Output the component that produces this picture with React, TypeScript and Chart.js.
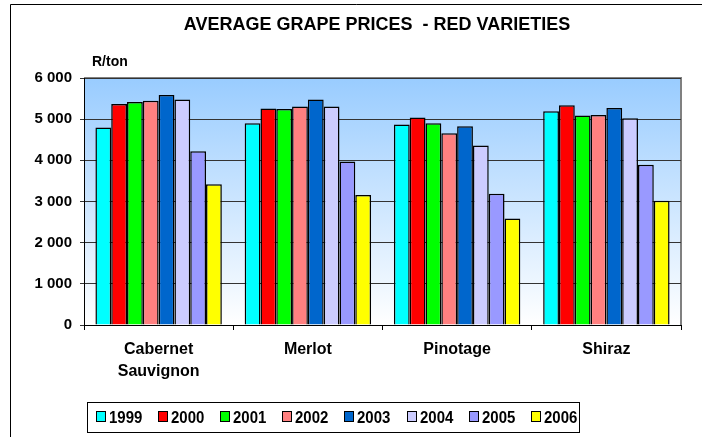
import React, { useEffect, useRef } from "react";
import { Chart, registerables } from "chart.js";

Chart.register(...registerables);

const categories: (string | string[])[] = [["Cabernet", "Sauvignon"], "Merlot", "Pinotage", "Shiraz"];
const years = ["1999", "2000", "2001", "2002", "2003", "2004", "2005", "2006"];
const colors = ["#00FFFF", "#FF0000", "#00FF00", "#FF8080", "#0066CC", "#CCCCFF", "#9999FF", "#FFFF00"];

const v1999 = [4800, 4900, 4870, 5190];
const v2000 = [5370, 5260, 5040, 5340];
const v2001 = [5420, 5250, 4900, 5090];
const v2002 = [5450, 5310, 4660, 5100];
const v2003 = [5590, 5480, 4830, 5270];
const v2004 = [5480, 5310, 4360, 5020];
const v2005 = [4220, 3970, 3190, 3890];
const v2006 = [3420, 3160, 2590, 3020];
const seriesValues = [v1999, v2000, v2001, v2002, v2003, v2004, v2005, v2006];

const yMin = 0;
const yMax = 6000;
const yStep = 1000;

const titleText = "AVERAGE GRAPE PRICES  - RED VARIETIES";
const unitText = "R/ton";

const FONT = "'Liberation Sans', Arial, sans-serif";

const fmt = (v: number) => String(v).replace(/\B(?=(\d{3})+(?!\d))/g, " ");

const decorPlugin = {
  id: "decor",
  beforeDraw(chart: any) {
    const { ctx, chartArea } = chart;
    ctx.save();
    ctx.fillStyle = "#FFFFFF";
    ctx.fillRect(0, 0, chart.width, chart.height);
    // outer border
    ctx.strokeStyle = "#000000";
    ctx.lineWidth = 1;
    ctx.beginPath();
    ctx.moveTo(10.5, chart.height + 5);
    ctx.lineTo(10.5, 4.5);
    ctx.lineTo(chart.width + 5, 4.5);
    ctx.stroke();
    // plot background gradient
    const g = ctx.createLinearGradient(0, chartArea.top, 0, chartArea.bottom);
    g.addColorStop(0, "#99CCFF");
    g.addColorStop(1, "#FFFFFF");
    ctx.fillStyle = g;
    ctx.fillRect(chartArea.left, chartArea.top, chartArea.right - chartArea.left, chartArea.bottom - chartArea.top);
    // plot border (top/right)
    ctx.strokeStyle = "#808080";
    ctx.lineWidth = 2;
    ctx.beginPath();
    ctx.moveTo(chartArea.left, chartArea.top);
    ctx.lineTo(chartArea.right, chartArea.top);
    ctx.lineTo(chartArea.right, chartArea.bottom);
    ctx.stroke();
    // title
    ctx.fillStyle = "#000000";
    ctx.textBaseline = "alphabetic";
    ctx.save();
    ctx.translate(377, 30);
    ctx.scale(1, 1.05);
    ctx.font = `bold 18px ${FONT}`;
    ctx.textAlign = "center";
    ctx.fillText(titleText, 0, 0);
    ctx.restore();
    ctx.save();
    ctx.translate(92, 66);
    ctx.scale(1, 1.1);
    ctx.font = `bold 14px ${FONT}`;
    ctx.textAlign = "left";
    ctx.fillText(unitText, 0, 0);
    ctx.restore();
    ctx.restore();
  },
  afterDraw(chart: any) {
    const { ctx } = chart;
    ctx.save();
    // legend box
    ctx.fillStyle = "#FFFFFF";
    ctx.fillRect(87.5, 402.5, 492, 30);
    ctx.strokeStyle = "#000000";
    ctx.lineWidth = 1;
    ctx.strokeRect(87.5, 402.5, 492, 30);
    ctx.textAlign = "left";
    ctx.textBaseline = "alphabetic";
    chart.data.datasets.forEach((ds: any, i: number) => {
      const x0 = Math.round(96 + i * 62.1);
      ctx.fillStyle = ds.backgroundColor;
      ctx.fillRect(x0 + 0.5, 411.5, 9, 10);
      ctx.strokeStyle = "#000000";
      ctx.lineWidth = 1;
      ctx.strokeRect(x0 + 0.5, 411.5, 9, 10);
      ctx.fillStyle = "#000000";
      ctx.save();
      ctx.translate(x0 + 13, 423);
      ctx.scale(1, 1.1);
      ctx.font = `bold 15px ${FONT}`;
      ctx.fillText(ds.label, 0, 0);
      ctx.restore();
    });
    ctx.restore();
  },
};

export default function App() {
  const ref = useRef<HTMLCanvasElement | null>(null);
  useEffect(() => {
    if (!ref.current) return;
    const chart = new Chart(ref.current, {
      type: "bar",
      data: {
        labels: categories,
        datasets: years.map((y, i) => ({
          label: y,
          data: seriesValues[i],
          backgroundColor: colors[i],
          borderColor: "#000000",
          borderWidth: 1.5,
          categoryPercentage: 0.847,
          barPercentage: 1.0,
        })),
      },
      options: {
        responsive: false,
        animation: false,
        layout: { padding: { left: 0, right: 21, top: 78, bottom: 0 } },
        plugins: {
          legend: { display: false },
          title: { display: false },
          tooltip: { enabled: false },
        },
        scales: {
          x: {
            afterFit: (s: any) => {
              s.height = 112;
            },
            grid: { drawOnChartArea: false, offset: true, tickLength: 5, color: "#000000" },
            border: { color: "#000000", width: 1 },
            ticks: {
              color: "#000000",
              font: { family: FONT, size: 16, weight: "bold", lineHeight: 1.375 },
              padding: 9,
              maxRotation: 0,
              autoSkip: false,
            },
          },
          y: {
            min: yMin,
            max: yMax,
            afterFit: (s: any) => {
              s.width = 84;
            },
            grid: { color: "#333333", tickLength: 4, lineWidth: 1 },
            border: { color: "#000000", width: 1 },
            ticks: {
              stepSize: yStep,
              color: "#000000",
              font: { family: FONT, size: 15, weight: "bold" },
              padding: 8,
              callback: (v: any) => fmt(Number(v)),
            },
          },
        },
      },
      plugins: [decorPlugin],
    });
    return () => chart.destroy();
  }, []);
  return (
    <div style={{ position: "absolute", left: 0, top: 0, width: 702, height: 437 }}>
      <canvas ref={ref} width={702} height={437} />
    </div>
  );
}
